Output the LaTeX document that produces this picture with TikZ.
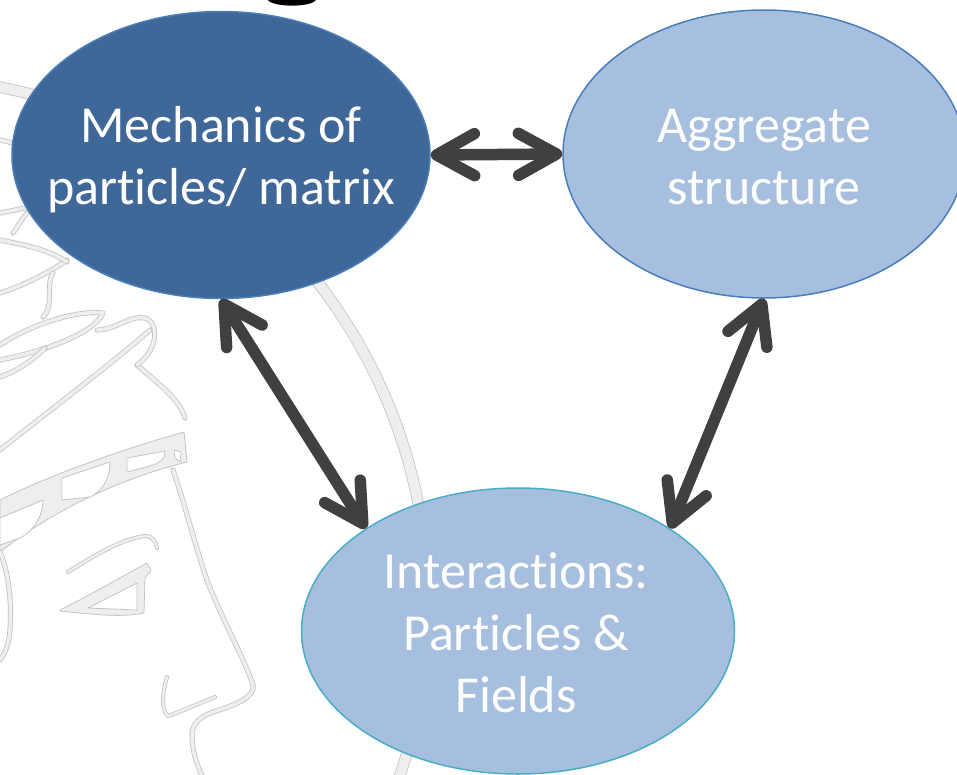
\documentclass[tikz,border=0pt]{standalone}
\usepackage{fontspec}
\setmainfont{Carlito}[Ligatures=NoCommon]
\usetikzlibrary{arrows.meta,shapes.geometric}
\definecolor{darkfill}{RGB}{63,103,152}
\definecolor{lightfill}{RGB}{167,191,222}
\definecolor{blueline}{RGB}{74,126,187}
\definecolor{tealline}{RGB}{75,172,198}
\definecolor{arrowgray}{RGB}{64,64,64}
\definecolor{wmline}{RGB}{196,196,196}
\definecolor{wmfill}{RGB}{238,238,238}
\begin{document}
\begin{tikzpicture}[x=1pt,y=-1pt,
  bubble/.style={ellipse, inner sep=0pt, line width=1.5pt},
  lbl/.style={text=white, font=\fontsize{52}{62}\selectfont, align=center, anchor=base, inner sep=0pt},
  link/.style={draw=arrowgray, line width=11.5pt,
    {Straight Barb[length=38pt,width=42pt,round]}-{Straight Barb[length=38pt,width=42pt,round]}},
  wm/.style={draw=wmline, line width=0.8pt, double=wmfill, double distance=3.5pt, line join=round, line cap=round},
  wmshape/.style={draw=wmline, line width=0.8pt, fill=wmfill, line join=round},
  wmhole/.style={draw=wmline, line width=0.8pt, fill=white, line join=round},
]
\useasboundingbox (0,0) rectangle (957,774);
\fill[white] (0,0) rectangle (957,774);

% faint medallion head in the background
\begin{scope}
\clip (0,0) rectangle (957,774);
\draw[wm, double distance=10pt] (-99,605) circle[radius=527pt];
% forehead and profile
\draw[wm] (137,365) .. controls (160,385) and (180,400) .. (185,418);
\draw[wm] (173,470) .. controls (185,505) and (195,545) .. (207,580)
  .. controls (220,615) and (245,660) .. (253,685)
  .. controls (255,695) and (240,703) .. (225,708)
  .. controls (205,714) and (192,720) .. (192,735)
  .. controls (192,750) and (196,762) .. (202,776);
% diadem
\draw[wmshape] (0,500) .. controls (50,475) and (120,450) .. (184,432) -- (187,462)
  .. controls (130,476) and (60,505) .. (0,552) -- cycle;
\draw[wmhole] (62,478) -- (110,462) .. controls (110,475) and (105,490) .. (90,497) -- (62,500) -- cycle;
\draw[wmhole] (127,458) -- (165,451) .. controls (166,458) and (160,463) .. (150,466) -- (127,472) -- cycle;
\draw[wmhole] (0,518) -- (43,500) .. controls (43,515) and (35,530) .. (20,538) -- (0,545) -- cycle;
\draw[wmhole] (174,450) -- (181,452) -- (180,462) -- (175,458) -- cycle;
% eyebrow, eye, nostril, cheek
\draw[wm, double distance=2.5pt] (68,572) .. controls (95,555) and (125,537) .. (147,536)
  .. controls (153,537) and (156,542) .. (157,548);
\draw[wmshape] (60,610) .. controls (90,595) and (125,575) .. (147,563) -- (151,570) -- (145,578)
  -- (144,613) .. controls (120,618) and (90,614) .. (60,611) -- cycle;
\draw[wmhole] (88,608) -- (137,583) -- (137,610) -- cycle;
\draw[wm, double distance=2.5pt] (167,677) .. controls (163,690) and (160,710) .. (168,716)
  .. controls (180,712) and (200,703) .. (215,697);
\draw[wm] (0,552) .. controls (8,570) and (12,600) .. (10,630) .. controls (9,645) and (4,655) .. (0,660);
% laurel leaves and hair
\draw[wm] (0,345) .. controls (30,325) and (75,310) .. (103,313) .. controls (95,332) and (50,350) .. (0,360);
\draw[wm] (0,450) .. controls (50,410) and (110,365) .. (150,330);
\draw[wm] (97,330) .. controls (115,330) and (130,315) .. (145,318) .. controls (160,323) and (158,350) .. (137,365);
\draw[wm] (0,293) .. controls (25,285) and (50,272) .. (67,260);
\draw[wm] (43,317) .. controls (55,305) and (45,285) .. (53,273);
\draw[wm] (0,377) .. controls (20,370) and (35,358) .. (45,348);
\draw[wm] (0,140) -- (13,143);
\draw[wm] (0,213) .. controls (10,211) and (20,209) .. (30,207);
\draw[wm] (13,233) .. controls (18,226) and (22,219) .. (27,213);
\draw[wm] (0,240) .. controls (25,245) and (50,250) .. (67,262);
\end{scope}

% descender of a heading letter cut by the top edge
\fill[black] (268,0) .. controls (272,7) and (310,8) .. (316,0) -- cycle;

% topic bubbles
\node[bubble, draw=blueline, fill=darkfill, minimum width=418pt, minimum height=287pt] (e1) at (221,155) {};
\node[bubble, draw=blueline, fill=lightfill, minimum width=402pt, minimum height=288pt] (e2) at (764,154) {};
\node[bubble, draw=tealline, fill=lightfill, minimum width=433pt, minimum height=286pt] (e3) at (518,631) {};

% labels (base anchor sits on the last line)
\node[lbl] (t1) at (221,204) {Mechanics of\\particles/ matrix};
\node[lbl] (t2) at (764,204) {Aggregate\\structure};
\node[lbl] (t3) at (516,712) {Interactions:\\Particles \&\\Fields};

% two-way links
\draw[link] (e1.east) -- (e2.west);
\draw[link] (e1.south) -- (e3.146);
\draw[link] (e2.south) -- (e3.34);
\end{tikzpicture}
\end{document}
